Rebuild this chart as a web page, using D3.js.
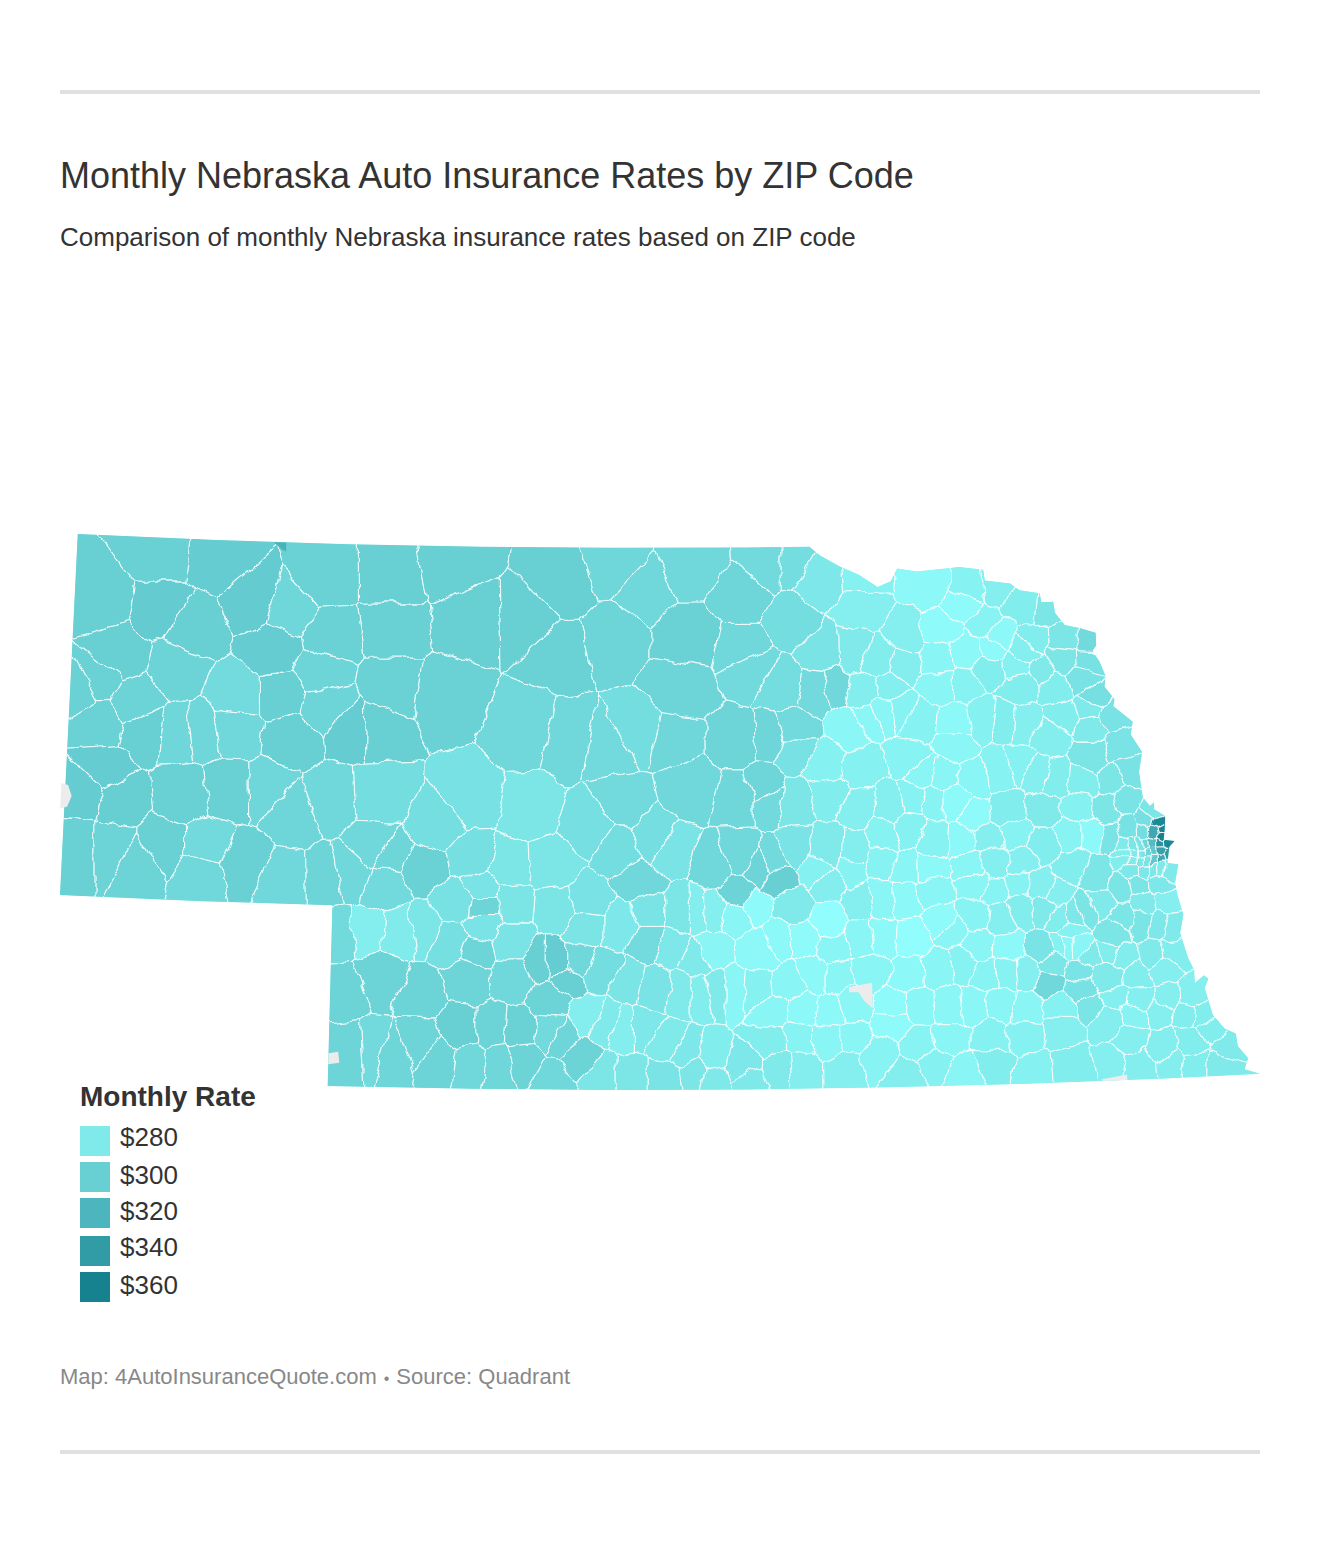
<!DOCTYPE html>
<html>
<head>
<meta charset="utf-8">
<title>Monthly Nebraska Auto Insurance Rates by ZIP Code</title>
<script src="https://cdn.jsdelivr.net/npm/d3@7"></script>
<style>
  html, body { margin: 0; padding: 0; background: #fff; }
  svg { display: block; font-family: "Liberation Sans", Arial, sans-serif; }
</style>
</head>
<body>
<svg id="chart" width="1320" height="1544"></svg>
<script>
// text
const titleText = "Monthly Nebraska Auto Insurance Rates by ZIP Code";
const subtitleText = "Comparison of monthly Nebraska insurance rates based on ZIP code";
const legendTitle = "Monthly Rate";
const footerMap = "Map: 4AutoInsuranceQuote.com";
const footerSource = "Source: Quadrant";

// legend rates and the colours they carry
const legendRates = [280, 300, 320, 340, 360];
const legendColors = ["#80eaeb", "#68cfd3", "#4db5bd", "#319ba6", "#16828f"];

// state border, lon/lat, clockwise from the north west corner
const northBorder = [[-104.05,43],[-103,43],[-102,43],[-101,43],[-100,43],[-99,43],[-98.51,43]];
const riverBorder = [[-98.43,42.95],[-98.29,42.89],[-98.14,42.84],[-98,42.77],[-97.9,42.8],[-97.85,42.87],[-97.7,42.85],[-97.38,42.87],[-97.2,42.85],[-97.19,42.79],[-97,42.77],[-96.93,42.73],[-96.78,42.71],[-96.77,42.66],[-96.68,42.66],[-96.67,42.6],[-96.6,42.53],[-96.49,42.51],[-96.37,42.48],[-96.37,42.41],[-96.4,42.38],[-96.35,42.32],[-96.31,42.24],[-96.32,42.18],[-96.25,42.11],[-96.26,42.07],[-96.12,41.98],[-96.14,41.91],[-96.06,41.81],[-96.09,41.7],[-96.07,41.56],[-96.02,41.51],[-95.99,41.53],[-95.99,41.49],[-95.91,41.45],[-95.92,41.37],[-95.93,41.32],[-95.85,41.31],[-95.89,41.28],[-95.91,41.19],[-95.83,41.18],[-95.86,41.08],[-95.85,41.02],[-95.81,40.9],[-95.84,40.8],[-95.79,40.66],[-95.75,40.59],[-95.75,40.52],[-95.68,40.56],[-95.65,40.54],[-95.68,40.49],[-95.63,40.34],[-95.55,40.26],[-95.47,40.23],[-95.46,40.16],[-95.39,40.09],[-95.42,40.03],[-95.31,40]];
const southBorder = [[-96,40],[-97,40],[-98,40],[-99,40],[-100,40],[-101,40],[-102.05,40],[-102.05,40.5],[-102.05,41],[-103,41],[-104.05,41],[-104.05,42]];

// ZIP areas: lon, lat, monthly rate
const panhandleZips = [
  [-103.83,42.65,300],[-103.43,42.9,299],[-102.97,42.88,302],[-103.41,42.61,303],[-103.16,42.51,300],[-102.71,42.67,303],[-102.43,42.62,294],[-102.16,42.81,298],[-101.66,42.82,300],[-101.23,42.88,300],
  [-101.65,42.54,299],[-103.27,42.28,297],[-102.81,42.14,291],[-102.46,42.15,300],[-102.38,41.93,300],[-102.19,42.29,296],[-102.13,42.1,296],[-101.93,41.98,302],[-101.75,41.98,300],[-101.64,42.21,298],
  [-101.26,42.17,298],[-103.98,42.14,298],[-103.84,42.2,298],[-103.82,41.97,298],[-103.46,41.92,300],[-103.24,41.91,294],[-103.05,41.93,294],[-102.83,41.96,293],[-103.78,41.7,302],[-103.18,41.58,299],
  [-102.83,41.62,299],[-102.56,41.63,294],[-102.36,41.51,295],[-101.72,41.61,290],[-103.94,41.27,299],[-103.68,41.28,297],[-103.48,41.21,297],[-103.31,41.29,299],[-103.03,41.16,293],[-102.99,41.3,292],
  [-102.72,41.22,299],[-102.42,41.12,293],[-102.09,41.13,296],[-101.92,41.16,293],[-101.68,41.11,292],[-101.39,41.21,298],[-101.65,41.29,295],[-103.91,41.59,302],[-103.64,41.54,301],[-103.57,42.1,297],
  [-103.7,42.35,300],[-102.12,42.48,298],[-102.53,42.41,302],[-101.07,42.6,300]
];
const sandhillZips = [
  [-100.63,41.98,293],[-100.6,41.55,283],[-100.32,41.93,293],[-100.03,41.89,292],[-99.81,41.98,290],[-99.54,41.93,294],[-99.06,41.93,296],[-100.39,42.44,298],[-100.01,42.5,296],[-100.62,42.61,300],
  [-100.39,42.78,300],[-99.78,42.78,293],[-99.41,42.5,298],[-99.48,42.22,296],[-99.03,42.44,293],[-99.03,42.72,295],[-99.41,42.89,293],[-99.94,42.89,294],[-101.05,41.6,287],[-102.09,41.59,293],
  [-101.29,41.45,289],[-101.02,41.27,288],[-101.73,41.33,293],[-100.77,41.23,283],[-100.45,41.24,283],[-99.93,41.59,292],[-100.16,41.46,288],[-99.93,41.33,290],[-99.79,41.15,293],[-99.69,41.39,289],
  [-99.41,41.67,293],[-99.06,41.61,294],[-98.86,41.66,295],[-99.25,41.24,293],[-99.05,41.29,293],[-98.9,41.23,296],[-99.07,41.07,297],[-99.56,41.32,285],[-98.96,42.33,292],[-98.73,42.23,290]
];
const southwestZips = [
  [-100.18,41.02,286],[-100.4,41,284],[-99.73,40.98,285],[-99.49,40.98,283],[-99.37,40.98,277],[-99.25,40.98,276],[-99.1,40.96,272],[-98.95,41.01,268],[-98.93,40.77,270],[-99.27,40.76,272],
  [-99.37,40.72,280],[-99.57,40.79,282],[-99.73,40.83,291],[-99.93,40.91,282],[-100.2,40.91,284],[-101.79,40.87,277],[-101.55,40.86,279],[-101.38,40.88,283],[-102.01,40.85,292],[-101.18,40.82,288],
  [-100.98,40.77,296],[-100.94,41.01,296],[-101.15,41.02,287],[-100.74,41.02,284],[-100.94,40.91,285],[-100.94,41.11,285],[-100.74,40.81,285],[-100.52,40.71,300],[-100.42,40.71,302],[-100.33,40.61,300],
  [-100.25,40.71,293],[-100.06,40.65,290],[-99.88,40.59,284],[-99.69,40.56,285],[-99.47,40.54,280],[-99.37,40.54,278],[-99.22,40.56,280],[-99.11,40.56,272],[-98.96,40.55,275],[-101.67,40.61,297],
  [-101.97,40.52,297],[-101.39,40.53,297],[-101.05,40.6,296],[-100.73,40.62,293],[-101.09,40.34,300],[-100.88,40.34,297],[-100.66,40.33,298],[-100.42,40.5,297],[-101.91,40.2,296],[-101.72,40.21,292],
  [-101.6,40.19,295],[-101.4,40.25,296],[-101.24,40.16,297],[-101.02,40.14,293],[-100.82,40.12,294],[-100.63,40.16,297],[-100.44,40.32,292],[-100.37,40.29,295],[-100.24,40.17,297],[-100.41,40.07,293],
  [-100.17,40.41,277],[-100.03,40.37,280],[-99.91,40.35,277],[-99.77,40.35,282],[-99.59,40.26,280],[-99.47,40.21,282],[-99.28,40.17,278],[-99.04,40.12,282],[-100.07,40.07,283],[-99.86,40.07,283],
  [-99.62,40.07,285],[-99.4,40.09,283],[-99.26,40.07,281],[-98.99,40.05,281]
];
const northeastZips = [
  [-98.67,42.92,290],[-98.8,42.92,292],[-98.42,42.81,282],[-98.64,42.59,290],[-98.46,42.21,292],[-98.34,42.23,293],[-98.81,41.94,295],[-98.64,41.98,292],[-98.64,41.87,287],[-98.82,41.61,292],
  [-98.67,41.6,283],[-98.41,42.42,285],[-98.2,42.42,280],[-98.12,42.82,275],[-98.12,42.65,276],[-97.61,42.77,270],[-97.31,42.75,274],[-97.36,42.66,268],[-97.11,42.76,276],[-96.91,42.63,278],
  [-96.71,42.61,283],[-96.43,42.43,292],[-96.44,42.33,287],[-96.6,42.46,283],[-96.85,42.46,278],[-97.07,42.48,270],[-97.2,42.56,273],[-97.54,42.53,268],[-97.8,42.5,276],[-98,42.37,278],
  [-97.81,42.33,277],[-97.58,42.37,272],[-97.32,42.4,270],[-97.15,42.41,269],[-96.9,42.41,276],[-96.78,42.28,280],[-96.63,42.33,283],[-96.48,42.23,286],[-96.39,42.13,288],[-96.27,42.02,286],
  [-96.44,42.06,280],[-96.42,41.95,280],[-96.23,41.85,285],[-96.19,41.7,286],[-96.43,41.8,284],[-96.65,42.03,278],[-96.75,41.92,277],[-96.69,42.19,278],[-96.96,42.2,278],[-96.98,42.31,275],
  [-97.18,42.3,278],[-97.36,42.21,274],[-97.56,42.22,272],[-97.71,42.03,274],[-97.44,42.01,270],[-97.24,42.03,275],[-97.07,42.01,278],[-96.92,42,276],[-97.93,42.22,276],[-98.13,42.19,277],
  [-98.21,42,271],[-98.12,42.04,271],[-97.96,42.08,272],[-97.85,42.09,274],[-98.42,41.78,275],[-98.39,41.64,278],[-98.15,41.75,275],[-98.15,41.56,276],[-97.77,41.82,273],[-97.68,41.74,272],
  [-97.55,41.72,272],[-97.45,41.88,271],[-97.33,41.69,272],[-97.11,41.74,274],[-96.98,41.76,275],[-96.85,41.71,276],[-96.71,41.68,278],[-96.51,41.66,278],[-96.27,41.67,283],[-96.19,41.53,285],
  [-96.35,41.5,283],[-96.54,41.51,275],[-96.8,41.51,280],[-97.09,41.51,278],[-97.32,41.49,268],[-97.46,41.57,269],[-97.61,41.57,273],[-97.78,41.58,274],[-97.95,41.56,276],[-97.81,41.43,275],
  [-97.99,41.39,274],[-97.62,41.37,274],[-97.42,41.36,270],[-97.22,41.36,276],[-97.03,41.37,274],[-96.81,41.31,278],[-96.63,41.38,273],[-96.43,41.37,270],[-96.33,41.35,285],[-96.18,41.38,287],
  [-96.06,41.38,290],[-95.98,41.48,283],[-96.04,41.43,288]
];
const omahaZips = [
  [-95.96,41.41,355],[-95.94,41.38,360],[-95.99,41.37,330],[-95.94,41.34,360],[-95.89,41.3,355],[-95.91,41.22,340],
  [-96.21,41.3,280],[-96.16,41.3,283],[-96.11,41.3,285],[-96.07,41.3,295],[-96.02,41.3,315],[-95.96,41.3,345],
  [-96.21,41.25,278],[-96.17,41.25,280],[-96.11,41.25,285],[-96.07,41.25,295],[-96.02,41.25,305],[-95.96,41.25,335],
  [-96.21,41.21,278],[-96.17,41.21,280],[-96.12,41.21,283],[-96.08,41.21,285],[-96.02,41.21,305],[-95.96,41.21,330],
  [-96.17,41.17,282],[-96.08,41.17,282],[-96.02,41.17,282],[-95.96,41.17,280],[-95.9,41.16,280]
];
const platteZips = [
  [-98.8,41.27,292],[-98.77,41.16,300],[-98.65,41.31,285],[-98.4,41.32,280],[-98.51,41.2,275],[-98.21,41.31,277],[-98.24,41.21,274],[-98.01,41.25,274],[-97.84,41.2,272],[-97.65,41.2,270],
  [-97.37,41.21,272],[-97.18,41.23,276],[-96.98,41.24,276],[-96.61,41.19,278],[-96.42,41.13,283],[-96.25,41.07,284],[-96.13,41.08,284],[-95.98,41.08,282],[-95.94,40.98,276],[-96.09,40.97,280],
  [-96.26,40.9,283],[-96.11,40.88,284],[-95.99,40.86,282],[-95.9,40.83,280],[-96.32,40.82,283],[-96.42,40.98,280],[-96.53,40.95,284],[-96.6,40.93,282],[-96.72,40.92,278],[-96.82,40.96,280],
  [-96.86,40.74,285],[-96.77,40.66,283],[-96.59,40.62,285],[-96.81,40.55,293],[-96.58,40.52,287],[-96.5,40.69,280],[-96.66,40.75,272],[-96.73,40.75,275],[-96.59,40.75,272],[-96.63,40.84,275],
  [-97.08,40.76,270],[-97.32,40.77,272],[-97.51,40.85,272],[-97.34,40.93,273],[-97.14,40.91,276],[-96.99,40.95,278],[-97.6,40.91,268],[-97.8,40.81,266],[-98.02,40.82,270],[-98.17,40.81,272],
  [-98.41,40.93,266],[-98.61,40.83,268],[-98.76,40.83,270],[-98.37,40.77,272],[-98.17,41.03,276],[-98.02,41.04,272],[-97.85,41.05,270],[-97.63,41.09,272],[-97.33,41.12,272],[-97.18,41.08,273],
  [-97.01,41.11,274],[-96.86,41.09,276],[-96.72,41.03,276],[-98.68,41.02,280],[-98.42,41.13,277]
];
const republicanZips = [
  [-98.69,40.57,272],[-98.52,40.64,270],[-98.35,40.64,272],[-98.11,40.65,272],[-97.83,40.63,270],[-97.62,40.64,272],[-97.43,40.68,274],[-97.25,40.62,273],[-97.13,40.62,274],[-96.96,40.63,276],
  [-96.37,40.71,278],[-96.26,40.68,278],[-96.04,40.67,280],[-95.89,40.71,278],[-96.39,40.57,280],[-95.99,40.6,276],[-96.17,40.58,278],[-96.51,40.41,284],[-96.34,40.46,276],[-96.16,40.44,276],
  [-95.95,40.44,276],[-95.78,40.44,276],[-95.71,40.34,278],[-98.82,40.42,272],[-98.6,40.45,270],[-98.4,40.42,270],[-98.25,40.45,271],[-97.94,40.44,268],[-97.75,40.44,271],[-97.55,40.44,271],
  [-97.36,40.45,271],[-97.16,40.45,272],[-96.97,40.42,272],[-96.73,40.42,275],[-96.39,40.32,277],[-96.2,40.37,274],[-96.01,40.37,276],[-95.81,40.35,278],[-95.65,40.27,278],[-98.84,40.27,278],
  [-98.65,40.27,273],[-98.43,40.27,272],[-98.24,40.27,272],[-97.95,40.37,268],[-97.77,40.24,273],[-97.56,40.25,272],[-97.22,40.25,275],[-97,40.26,275],[-96.74,40.29,276],[-96.25,40.22,276],
  [-95.99,40.17,277],[-95.8,40.2,278],[-95.53,40.15,280],[-98.79,40.11,280],[-98.63,40.12,277],[-98.31,40.12,276],[-98.07,40.17,273],[-97.88,40.06,277],[-97.63,40.13,275],[-97.45,40.07,272],
  [-97.23,40.13,278],[-96.94,40.07,275],[-96.65,40.08,278],[-96.36,40.11,276],[-96.19,40.08,277],[-95.93,40.09,277],[-95.78,40.07,278],[-95.57,40.06,280]
];

// small pieces drawn over the ZIP areas
const sheridanPatch = [[-102.56,43],[-102.47,43],[-102.47,42.95],[-102.5,42.96],[-102.55,42.99]];
const sheridanRate = 322;
const noDataAreas = [
  [[-104.08,41.62],[-104.03,41.61],[-104,41.55],[-104.03,41.49],[-104.08,41.48]],
  [[-102.05,40.18],[-101.98,40.19],[-101.97,40.13],[-102.05,40.12]],
  [[-98.27,40.56],[-98.1,40.58],[-98.1,40.44],[-98.16,40.48],[-98.2,40.53],[-98.27,40.53]],
  [[-96.45,40],[-96.45,40.01],[-96.27,40.03],[-96.27,40]]
];

const allZips = [].concat(panhandleZips, sandhillZips, southwestZips, northeastZips, omahaZips, platteZips, republicanZips);
const stateBorder = [].concat(northBorder, riverBorder, southBorder);

const svg = d3.select("#chart");

// Rules top and bottom
svg.selectAll("rect.rule").data([90, 1450]).enter().append("rect")
  .attr("class", "rule").attr("x", 60).attr("y", d => d).attr("width", 1200).attr("height", 4).attr("fill", "#e0e0e0");

svg.append("text").attr("x", 60).attr("y", 188).attr("font-size", 36).attr("fill", "#333").text(titleText);
svg.append("text").attr("x", 60).attr("y", 246).attr("font-size", 26).attr("fill", "#333").text(subtitleText);

const footer = svg.append("text").attr("x", 60).attr("y", 1384).attr("font-size", 22).attr("fill", "#888");
footer.append("tspan").text(footerMap);
footer.append("tspan").attr("dx", 7).attr("font-size", 16).text("\u2022");
footer.append("tspan").attr("dx", 7).text(footerSource);

// Map projection, fitted to the state border
const projection = d3.geoAlbers().rotate([99.8, 0]).parallels([40, 43])
  .fitExtent([[60, 534], [1260, 1090]], { type: "MultiPoint", coordinates: stateBorder });

const color = d3.scaleLinear().domain(legendRates).range(legendColors);
const outline = d3.line()(stateBorder.map(d => projection(d)));

const defs = svg.append("defs");
defs.append("clipPath").attr("id", "state").append("path").attr("d", outline);

// ragged ZIP borders
const rough = defs.append("filter").attr("id", "rough").attr("filterUnits", "userSpaceOnUse")
  .attr("x", 0).attr("y", 480).attr("width", 1320).attr("height", 660)
  .attr("color-interpolation-filters", "sRGB");
rough.append("feTurbulence").attr("type", "fractalNoise").attr("baseFrequency", 0.045)
  .attr("numOctaves", 3).attr("seed", 7).attr("result", "noise");
rough.append("feDisplacementMap").attr("in", "SourceGraphic").attr("in2", "noise")
  .attr("scale", 11).attr("xChannelSelector", "R").attr("yChannelSelector", "G");

// ZIP areas as cells around each ZIP location
const zipXY = allZips.map(d => projection([d[0], d[1]]));
const voronoi = d3.Delaunay.from(zipXY).voronoi([0, 480, 1320, 1140]);

const map = svg.append("g").attr("clip-path", "url(#state)");
map.append("path").attr("d", outline).attr("fill", color(280));
map.append("g").attr("filter", "url(#rough)")
  .selectAll("path").data(allZips).enter().append("path")
  .attr("d", (d, i) => voronoi.renderCell(i))
  .attr("fill", d => color(d[2]))
  .attr("stroke", "#fff").attr("stroke-opacity", 0.8).attr("stroke-width", 1.1);

const patchPath = d => d3.line()(d.map(p => projection(p)));
map.append("path").attr("d", patchPath(sheridanPatch)).attr("fill", color(sheridanRate));
svg.selectAll("path.nodata").data(noDataAreas).enter().append("path")
  .attr("class", "nodata").attr("d", patchPath).attr("fill", "#ececec");

// Legend
const swatchTop = [1126, 1162, 1198, 1236, 1272];
const labelBase = [1146, 1184, 1220, 1256, 1294];
svg.append("text").attr("x", 80).attr("y", 1106).attr("font-size", 28).attr("font-weight", "bold").attr("fill", "#333").text(legendTitle);
svg.selectAll("rect.swatch").data(legendRates).enter().append("rect").attr("class", "swatch")
  .attr("x", 80).attr("y", (d, i) => swatchTop[i]).attr("width", 30).attr("height", 30).attr("fill", d => color(d));
svg.selectAll("text.swatch-label").data(legendRates).enter().append("text").attr("class", "swatch-label")
  .attr("x", 120).attr("y", (d, i) => labelBase[i]).attr("font-size", 26).attr("fill", "#333").text(d => "$" + d);
</script>
</body>
</html>
